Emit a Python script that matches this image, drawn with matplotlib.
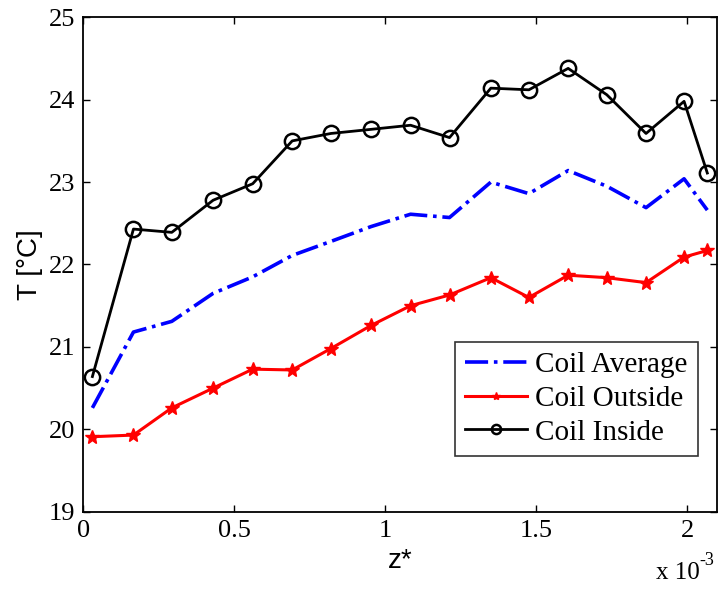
import numpy as np
import matplotlib.pyplot as plt
from matplotlib.ticker import FuncFormatter

# z* (x 10^-3)
z = [0.030, 0.166, 0.293, 0.430, 0.561, 0.692, 0.820, 0.953, 1.084,
     1.213, 1.350, 1.476, 1.606, 1.734, 1.864, 1.990, 2.067]
t_avg = [20.26, 21.18, 21.31, 21.65, 21.85, 22.11, 22.28, 22.46, 22.61,
         22.57, 23.00, 22.86, 23.14, 22.95, 22.69, 23.04, 22.66]
t_out = [19.91, 19.93, 20.26, 20.50, 20.73, 20.72, 20.98, 21.26, 21.50,
         21.63, 21.84, 21.60, 21.87, 21.84, 21.78, 22.09, 22.17]
t_in = [20.64, 22.43, 22.39, 22.78, 22.98, 23.50, 23.59, 23.64, 23.69,
        23.54, 24.14, 24.12, 24.38, 24.06, 23.59, 23.98, 23.11]

z = np.array(z) * 1e-3

serif = 'Liberation Serif'
sans = 'Liberation Sans'

fig = plt.figure(figsize=(7.19, 5.90), dpi=100)
ax = fig.add_axes([0.1159, 0.1327, 0.8817, 0.838])

ax.plot(z, t_avg, color='blue', ls='-.', lw=2.6, label='Coil Average')
ax.plot(z, t_out, color='red', ls='-', lw=2.2, marker='*', ms=10,
        label='Coil Outside')
ax.plot(z, t_in, color='black', ls='-', lw=2.0, marker='o', ms=11,
        mfc='none', mew=1.8, label='Coil Inside')

ax.set_xlim(0, 2.1e-3)
ax.set_ylim(19, 25)
ax.set_xticks([0, 0.5e-3, 1e-3, 1.5e-3, 2e-3])
ax.xaxis.set_major_formatter(FuncFormatter(lambda v, p: f'{v*1e3:g}'))
ax.set_yticks(np.arange(19, 26, 1))

ax.tick_params(direction='in', top=True, right=True, length=5, width=1,
               labelsize=19, pad=6)
for lab in ax.get_xticklabels() + ax.get_yticklabels():
    lab.set_fontfamily(serif)
for sp in ax.spines.values():
    sp.set_linewidth(1.3)

ax.set_xlabel('z*', fontsize=20, fontfamily=sans, labelpad=4)
ax.set_ylabel('T [°C]', fontsize=20, fontfamily=sans, labelpad=4)
fig.text(0.973, 0.01, 'x 10', ha='right', va='bottom', fontsize=18,
         fontfamily=serif)
fig.text(0.973, 0.035, '-3', ha='left', va='bottom', fontsize=13,
         fontfamily=serif)

leg = ax.legend(loc='lower right', bbox_to_anchor=(0.9696, 0.113),
                prop={'family': serif, 'size': 21}, frameon=True,
                fancybox=False, edgecolor='black', handlelength=2.1,
                borderpad=0.35, labelspacing=0.25, handletextpad=0.3,
                borderaxespad=0, markerscale=0.6)
leg.get_frame().set_linewidth(1.2)

plt.savefig('out.png', dpi=100)
